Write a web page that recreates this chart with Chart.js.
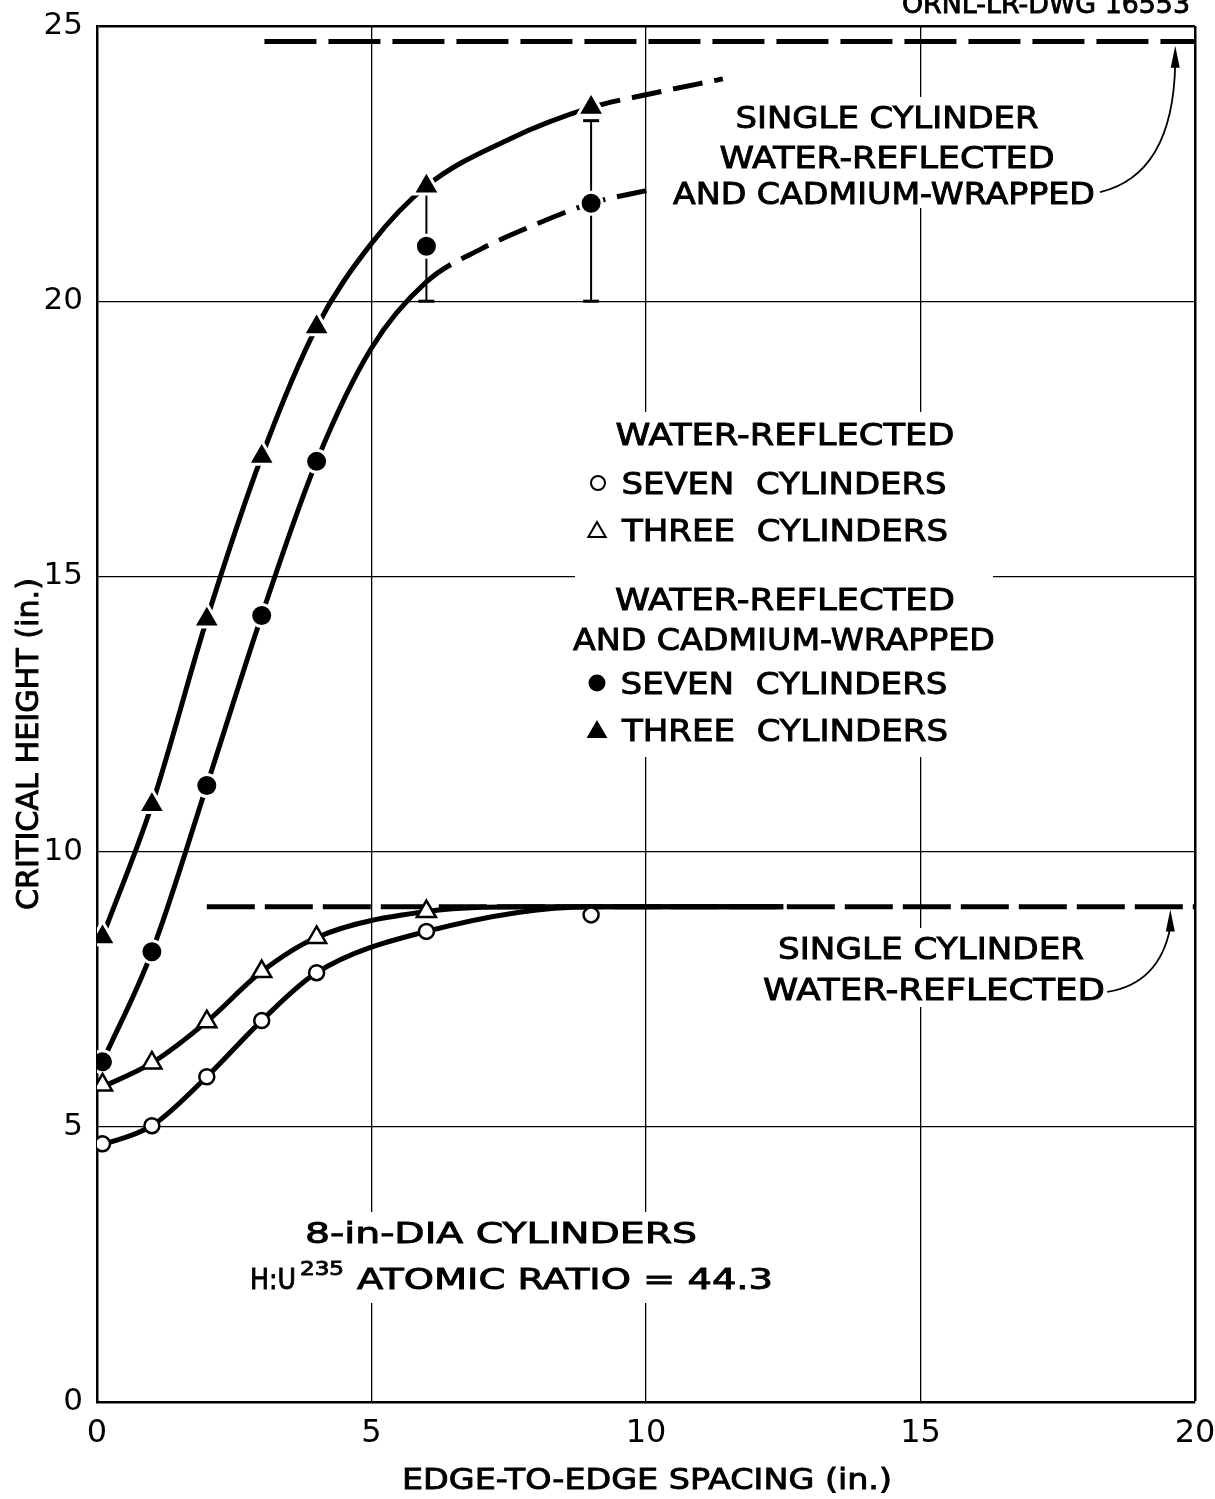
<!DOCTYPE html>
<html>
<head>
<meta charset="utf-8">
<script src="https://cdn.jsdelivr.net/npm/chart.js@4.4.1/dist/chart.umd.min.js"></script>
<style>
  html, body { margin: 0; padding: 0; background: #fff; }
  canvas { display: block; }
</style>
</head>
<body>
<canvas id="chart" width="1215" height="1499"></canvas>
<script>
// measured points: edge-to-edge spacing (in.) vs critical height (in.)
const spacing = [0.1, 1, 2, 3, 4, 6, 9];
const sevenWater = [4.69, 5.02, 5.91, 6.93, 7.80, 8.55, 8.85];
const threeWaterSpacing = [0.1, 1, 2, 3, 4, 6];
const threeWater = [5.76, 6.16, 6.91, 7.82, 8.44, 8.91];
const sevenCadmium = [6.18, 8.18, 11.20, 14.29, 17.09, 21.00, 21.78];
const threeCadmium = [8.45, 10.85, 14.22, 17.18, 19.53, 22.09, 23.52];

// faired curves as drawn on the sheet
const sevenWaterCurveX = [0, 1, 2, 3, 4, 6, 9, 12.5];
const sevenWaterCurveY = [4.64, 5.02, 5.91, 6.93, 7.80, 8.55, 9.0, 9.0];
const threeWaterCurveX = [0, 1, 2, 3, 4, 6, 8, 12.5];
const threeWaterCurveY = [5.68, 6.16, 6.91, 7.82, 8.44, 8.91, 9.0, 9.0];
const sevenCadCurveX = [0.1, 1, 2, 3, 4, 5, 6, 7, 8, 9, 10.1];
const sevenCadCurveY = [6.18, 8.18, 11.20, 14.29, 17.09, 19.15, 20.35, 20.95, 21.40, 21.78, 22.03];
const threeCadCurveX = [0.1, 1, 2, 3, 4, 5, 6, 7.5, 9, 10, 11.4];
const threeCadCurveY = [8.45, 10.85, 14.22, 17.18, 19.53, 21.05, 22.09, 22.94, 23.52, 23.75, 24.04];

// single cylinder values
const singleCadX = [3.05, 20];
const singleCadY = [24.72, 24.72];
const singleWaterX = [2.0, 20];
const singleWaterY = [9.0, 9.0];

// spread bars on the cadmium points
const barX = [6, 9];
const barLow = [20, 20];
const barHigh = [22.0, 23.28];

const xTicks = [0, 5, 10, 15, 20];
const yTicks = [0, 5, 10, 15, 20, 25];

const FONT = '"DejaVu Sans", "Liberation Sans", sans-serif';
const pts = (xs, ys) => xs.map((x, i) => ({ x, y: ys[i] }));

function fitText(ctx, str, cx, cy, w, size) {
  ctx.font = size + 'px ' + FONT;
  const m = ctx.measureText(str).width;
  ctx.save();
  ctx.translate(cx, cy);
  ctx.scale(w / m, 1);
  ctx.textAlign = 'center';
  ctx.textBaseline = 'alphabetic';
  ctx.fillText(str, 0, size * 0.365);
  ctx.strokeStyle = '#000';
  ctx.lineWidth = 0.9;
  ctx.strokeText(str, 0, size * 0.365);
  ctx.restore();
}

function marker(ctx, style, r, x, y, filled) {
  ctx.save();
  ctx.fillStyle = filled ? '#000' : '#fff';
  ctx.strokeStyle = '#000';
  ctx.lineWidth = filled ? 0 : 2;
  Chart.helpers.drawPoint(ctx, { pointStyle: style, radius: r, borderWidth: filled ? 0 : 2, rotation: 0 }, x, y);
  ctx.restore();
}

// curved leader with an arrow head, in data units
function leader(chart, from, ctrl, tip) {
  const { ctx, scales: { x, y } } = chart;
  const p = a => [x.getPixelForValue(a[0]), y.getPixelForValue(a[1])];
  const [x0, y0] = p(from), [x1, y1] = p(ctrl), [x2, y2] = p(tip);
  ctx.save();
  ctx.strokeStyle = '#000';
  ctx.lineWidth = 1.8;
  ctx.beginPath();
  ctx.moveTo(x0, y0);
  ctx.quadraticCurveTo(x1, y1, x2, y2 + 18);
  ctx.stroke();
  ctx.beginPath();
  ctx.moveTo(x2, y2);
  ctx.lineTo(x2 - 4.5, y2 + 22);
  ctx.lineTo(x2 + 4.5, y2 + 22);
  ctx.closePath();
  ctx.fillStyle = '#000';
  ctx.fill();
  ctx.restore();
}

const notes = {
  id: 'notes',
  beforeDatasetsDraw(chart) {
    const ctx = chart.ctx;
    ctx.save();
    ctx.fillStyle = '#fff';
    // lettering blanks out the grid behind it
    ctx.fillRect(665, 97, 440, 111);
    ctx.fillRect(575, 412, 418, 345);
    ctx.fillRect(755, 928, 352, 79);
    ctx.fillRect(245, 1212, 535, 91);
    ctx.restore();
  },
  afterDatasetsDraw(chart) {
    const ctx = chart.ctx;
    ctx.save();
    ctx.fillStyle = '#000';

    fitText(ctx, 'SINGLE CYLINDER', 887, 117, 303, 30);
    fitText(ctx, 'WATER-REFLECTED', 887, 157, 335, 30);
    fitText(ctx, 'AND CADMIUM-WRAPPED', 884, 193, 422, 30);

    fitText(ctx, 'WATER-REFLECTED', 785, 434, 339, 30);
    fitText(ctx, 'SEVEN  CYLINDERS', 784, 483, 325, 30);
    fitText(ctx, 'THREE  CYLINDERS', 785, 530, 326, 30);
    fitText(ctx, 'WATER-REFLECTED', 785, 599, 340, 30);
    fitText(ctx, 'AND CADMIUM-WRAPPED', 784, 639, 422, 30);
    fitText(ctx, 'SEVEN  CYLINDERS', 784, 683, 327, 30);
    fitText(ctx, 'THREE  CYLINDERS', 785, 730, 326, 30);
    marker(ctx, 'circle', 7, 598, 483, false);
    marker(ctx, 'triangle', 10, 597, 532, false);
    marker(ctx, 'circle', 8.5, 597, 683, true);
    marker(ctx, 'triangle', 12, 597, 732, true);

    fitText(ctx, 'SINGLE CYLINDER', 931, 948, 306, 30);
    fitText(ctx, 'WATER-REFLECTED', 934, 989, 342, 30);

    fitText(ctx, '8-in-DIA CYLINDERS', 501, 1233, 392, 28);
    fitText(ctx, 'H:U', 273, 1279, 46, 28);
    fitText(ctx, '235', 322, 1268, 44, 19);
    fitText(ctx, 'ATOMIC RATIO = 44.3', 565, 1279, 416, 28);

    fitText(ctx, 'ORNL-LR-DWG 16553', 1046, 3, 288, 27);

    fitText(ctx, 'EDGE-TO-EDGE SPACING (in.)', 647, 1478, 490, 29);
    ctx.save();
    ctx.translate(27, 744);
    ctx.rotate(-Math.PI / 2);
    fitText(ctx, 'CRITICAL HEIGHT (in.)', 0, 0, 332, 30);
    ctx.restore();

    leader(chart, [18.27, 21.98], [19.6, 22.3], [19.64, 24.64]);
    leader(chart, [18.4, 7.45], [19.35, 7.6], [19.55, 8.95]);
    ctx.restore();
  }
};

const curve = (xs, ys, dashFrom) => ({
  data: pts(xs, ys),
  showLine: true,
  borderColor: '#000',
  borderWidth: 5,
  pointRadius: 0,
  cubicInterpolationMode: 'monotone',
  borderCapStyle: 'butt',
  order: 3,
  segment: {
    borderDash: c => (c.p0.parsed.x >= dashFrom ? [30, 12] : undefined)
  }
});

const flat = (xs, ys, dash) => ({
  data: pts(xs, ys),
  showLine: true,
  borderColor: '#000',
  borderWidth: 5,
  borderDash: dash,
  pointRadius: 0,
  order: 4
});

const bars = barX.map((x, i) => ({
  data: [{ x, y: barLow[i] }, { x, y: barHigh[i] }],
  showLine: true,
  borderColor: '#000',
  borderWidth: 2,
  pointStyle: 'line',
  pointRadius: 8,
  pointBorderWidth: 3,
  pointBorderColor: '#000',
  order: 2
}));

const points = (xs, ys, style, r, filled) => ({
  data: pts(xs, ys),
  showLine: false,
  pointStyle: style,
  pointRadius: r,
  pointBackgroundColor: filled ? '#000' : '#fff',
  pointBorderColor: filled ? '#fff' : '#000',
  pointBorderWidth: filled ? 3 : 2.5,
  order: 1
});

const gridWidth = edge => c => (c.tick && (c.tick.value === edge) ? 2.5 : 1.3);

new Chart(document.getElementById('chart'), {
  type: 'scatter',
  data: {
    datasets: [
      flat(singleCadX, singleCadY, [52, 12]),
      flat(singleWaterX, singleWaterY, [48, 10]),
      curve(sevenWaterCurveX, sevenWaterCurveY, 99),
      curve(threeWaterCurveX, threeWaterCurveY, 99),
      curve(sevenCadCurveX, sevenCadCurveY, 6),
      curve(threeCadCurveX, threeCadCurveY, 9),
      ...bars,
      points(spacing, sevenWater, 'circle', 7.5, false),
      points(threeWaterSpacing, threeWater, 'triangle', 11, false),
      points(spacing, sevenCadmium, 'circle', 11, true),
      points(spacing, threeCadmium, 'triangle', 15.5, true)
    ]
  },
  options: {
    responsive: false,
    animation: false,
    events: [],
    layout: { padding: { top: 26, right: 20, left: 0, bottom: 0 } },
    plugins: { legend: { display: false }, tooltip: { enabled: false } },
    scales: {
      x: {
        type: 'linear',
        min: 0,
        max: 20,
        afterFit: s => { s.height = 97; s.paddingLeft = 0; s.paddingRight = 0; },
        afterBuildTicks: s => { s.ticks = xTicks.map(v => ({ value: v })); },
        ticks: { color: '#000', padding: 12, maxRotation: 0, font: { family: FONT, size: 32 } },
        grid: { color: '#000', lineWidth: gridWidth(20), drawTicks: false },
        border: { color: '#000', width: 2.5 }
      },
      y: {
        type: 'linear',
        min: 0,
        max: 25,
        afterFit: s => { s.width = 97; s.paddingTop = 0; s.paddingBottom = 0; },
        afterBuildTicks: s => { s.ticks = yTicks.map(v => ({ value: v })); },
        ticks: { color: '#000', padding: 14, font: { family: FONT, size: 31 } },
        grid: { color: '#000', lineWidth: gridWidth(25), drawTicks: false },
        border: { color: '#000', width: 2.5 }
      }
    }
  },
  plugins: [notes]
});
</script>
</body>
</html>
